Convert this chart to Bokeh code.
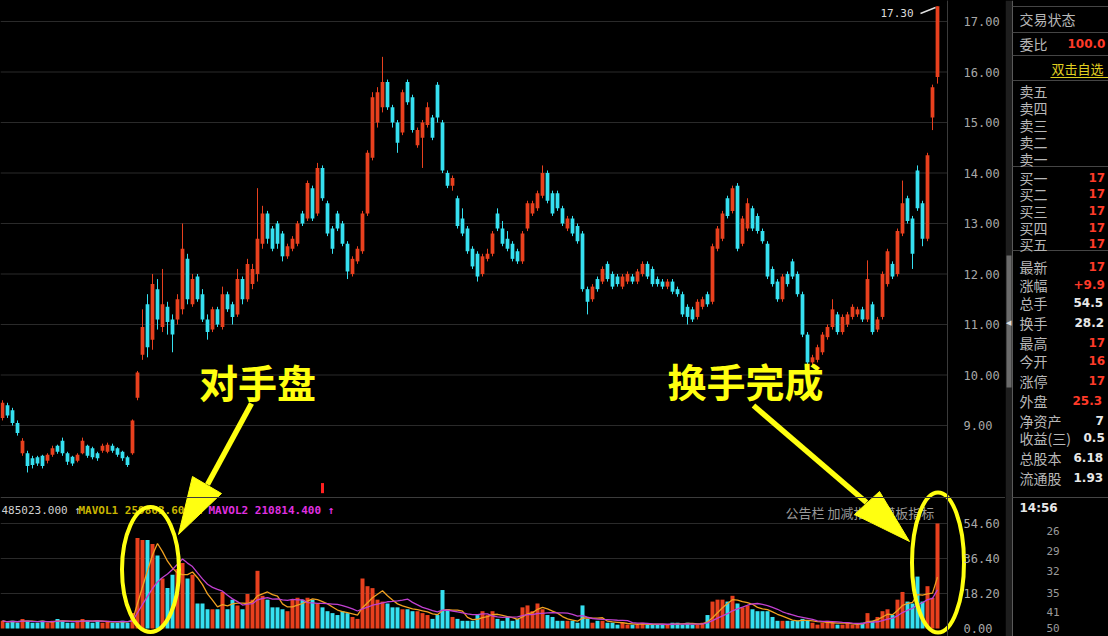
import pandas as pd
from bokeh.plotting import figure
from bokeh.layouts import row
from bokeh.models import Range1d, LinearAxis, FixedTicker, PrintfTickFormatter, Span
from bokeh.core.properties import value
from bokeh.embed import file_html
from bokeh.resources import INLINE

# ---------------- data ----------------
opens = [9.15, 9.4, 9.3, 9.05, 8.45, 8.45, 8.35, 8.37, 8.4, 8.3,
         8.42, 8.6, 8.7, 8.45, 8.38, 8.3, 8.45, 8.6, 8.55, 8.45,
         8.5, 8.48, 8.6, 8.55, 8.48, 8.37, 8.45, 9.55, 10.4, 11.4,
         10.7, 11.7, 10.95, 11.35, 11.1, 11.1, 11.3, 12.3, 11.4, 11.95,
         11.6, 11.1, 10.9, 11.3, 10.95, 11.6, 11.4, 11.2, 11.9, 11.5,
         11.8, 12.0, 12.6, 13.2, 12.9, 13.0, 12.8, 12.35, 12.5, 12.6,
         13.2, 13.1, 13.7, 13.2, 14.1, 13.4, 12.9, 13.2, 13.0, 12.6,
         12.0, 12.25, 12.45, 13.2, 14.3, 15.0, 15.3, 15.8, 15.3, 15.0,
         14.8, 15.8, 15.5, 14.55, 14.7, 14.95, 15.1, 15.75, 15.0, 14.0,
         13.75, 13.5, 13.1, 12.9, 12.5, 12.4, 12.0, 12.3, 12.4, 13.2,
         12.9, 12.7, 12.6, 12.45, 12.25, 12.9, 13.2, 13.3, 13.55, 14.0,
         13.6, 13.6, 13.3, 12.9, 13.1, 12.95, 12.8, 11.7, 11.5, 11.9,
         11.85, 12.2, 12.0, 11.95, 11.75, 11.85, 11.95, 11.85, 12.0, 12.2,
         12.1, 11.9, 11.85, 11.75, 11.85, 11.7, 11.6, 11.35, 11.3, 11.15,
         11.35, 11.6, 11.45, 12.5, 12.7, 13.5, 13.25, 13.75, 12.6, 12.9,
         13.3, 13.15, 12.85, 12.6, 12.1, 11.85, 11.5, 12.0, 12.25, 12.0,
         11.6, 10.8, 10.25, 10.3, 10.45, 10.75, 10.95, 11.2, 10.85, 11.0,
         11.15, 11.2, 11.3, 11.1, 11.4, 10.9, 11.15, 11.8, 12.2, 12.0,
         12.8, 13.5, 13.1, 14.05, 13.4, 12.7, 15.1, 15.9]
highs = [9.5, 9.45, 9.35, 9.1, 8.75, 8.5, 8.4, 8.4, 8.42, 8.45,
         8.6, 8.62, 8.76, 8.48, 8.4, 8.45, 8.76, 8.62, 8.58, 8.48,
         8.64, 8.66, 8.64, 8.57, 8.5, 8.4, 9.12, 10.08, 11.3, 11.6,
         12.0, 11.9, 12.1, 11.45, 11.2, 11.6, 13.0, 12.4, 12.0, 12.0,
         11.7, 11.2, 11.35, 11.35, 11.75, 11.65, 11.45, 12.1, 11.95, 12.3,
         12.2, 13.7, 13.35, 13.25, 12.95, 13.05, 12.85, 12.6, 12.75, 13.05,
         13.25, 13.85, 13.75, 14.2, 14.15, 13.45, 12.95, 13.25, 13.05, 12.65,
         12.35, 12.55, 13.25, 14.45, 15.6, 15.7, 16.3, 15.85, 15.35, 15.05,
         15.65, 15.85, 15.55, 14.9, 15.05, 15.4, 15.15, 15.8, 15.05, 14.05,
         13.95, 13.55, 13.3, 12.95, 12.55, 12.45, 12.4, 12.5, 12.85, 13.3,
         13.05, 12.85, 12.65, 12.5, 12.85, 13.45, 13.45, 13.65, 14.15, 14.05,
         13.65, 13.65, 13.35, 13.15, 13.15, 13.0, 12.85, 11.75, 11.8, 11.95,
         12.15, 12.25, 12.05, 12.0, 12.0, 12.05, 12.0, 12.1, 12.25, 12.25,
         12.15, 11.95, 11.9, 11.9, 11.9, 11.75, 11.65, 11.4, 11.35, 11.5,
         11.55, 11.65, 12.6, 12.95, 13.25, 13.55, 13.75, 13.8, 13.15, 13.5,
         13.35, 13.2, 12.9, 12.65, 12.15, 11.9, 12.0, 12.05, 12.3, 12.05,
         11.65, 10.85, 10.4, 10.6, 10.85, 11.0, 11.5, 11.25, 11.2, 11.25,
         11.4, 11.35, 11.35, 12.27, 11.45, 11.15, 12.05, 12.5, 12.25, 12.9,
         13.85, 13.55, 13.15, 14.15, 13.45, 14.4, 15.75, 17.3]
lows = [9.1, 9.15, 9.0, 8.8, 8.4, 8.07, 8.15, 8.2, 8.15, 8.25,
        8.38, 8.44, 8.4, 8.22, 8.2, 8.27, 8.43, 8.36, 8.33, 8.3,
        8.46, 8.45, 8.46, 8.38, 8.3, 8.18, 8.42, 9.5, 10.3, 10.35,
        10.5, 10.9, 10.85, 10.8, 10.45, 11.0, 11.2, 11.4, 11.35, 11.45,
        11.05, 10.7, 10.85, 10.95, 10.9, 11.25, 11.0, 11.15, 11.4, 11.45,
        11.7, 11.85, 12.5, 12.6, 12.45, 12.5, 12.25, 12.3, 12.45, 12.55,
        12.95, 13.05, 13.05, 13.15, 13.45, 12.75, 12.4, 12.85, 12.55, 11.9,
        11.95, 12.2, 12.4, 13.15, 14.25, 14.9, 15.2, 15.25, 14.9, 14.4,
        14.75, 15.35, 14.8, 14.5, 14.1, 14.9, 14.65, 15.0, 14.0, 13.7,
        13.65, 12.9, 12.75, 12.4, 12.1, 11.85, 11.95, 12.25, 12.35, 12.85,
        12.55, 12.45, 12.25, 12.2, 12.2, 12.85, 13.15, 13.25, 13.5, 13.4,
        13.15, 13.25, 12.95, 12.85, 12.75, 12.6, 11.65, 11.2, 11.45, 11.65,
        11.8, 11.85, 11.7, 11.75, 11.7, 11.8, 11.8, 11.8, 11.95, 11.9,
        11.75, 11.75, 11.7, 11.7, 11.6, 11.55, 11.15, 11.0, 11.05, 11.1,
        11.3, 11.35, 11.4, 12.45, 12.65, 13.1, 13.2, 12.45, 12.55, 12.85,
        12.85, 12.8, 12.6, 11.9, 11.75, 11.45, 11.45, 11.75, 11.9, 11.55,
        10.75, 10.15, 10.2, 10.25, 10.4, 10.7, 10.9, 10.8, 10.8, 10.95,
        11.1, 11.15, 11.05, 11.05, 10.8, 10.85, 11.1, 11.75, 11.9, 11.95,
        12.75, 13.0, 12.1, 13.25, 12.55, 12.65, 14.85, 15.77]
closes = [9.45, 9.2, 9.05, 8.85, 8.7, 8.2, 8.22, 8.25, 8.2, 8.42,
          8.55, 8.48, 8.45, 8.28, 8.25, 8.42, 8.7, 8.4, 8.37, 8.35,
          8.6, 8.62, 8.5, 8.42, 8.35, 8.22, 9.1, 10.05, 10.95, 10.55,
          11.8, 11.1, 11.4, 11.05, 10.8, 11.5, 12.5, 11.5, 11.9, 11.5,
          11.1, 10.85, 11.3, 11.0, 11.6, 11.3, 11.15, 11.9, 11.5, 12.2,
          12.1, 12.7, 13.2, 12.7, 12.5, 12.6, 12.35, 12.55, 12.7, 13.0,
          13.0, 13.8, 13.1, 14.1, 13.5, 12.8, 12.5, 12.9, 12.6, 12.05,
          12.3, 12.5, 13.2, 14.4, 15.5, 15.6, 15.8, 15.3, 15.0, 14.6,
          15.6, 15.4, 14.85, 14.85, 15.0, 15.3, 14.7, 15.1, 14.05, 13.75,
          13.9, 12.95, 12.8, 12.45, 12.15, 11.95, 12.35, 12.4, 12.8, 12.9,
          12.6, 12.5, 12.3, 12.25, 12.8, 13.4, 13.4, 13.6, 14.0, 13.45,
          13.2, 13.3, 13.0, 13.1, 12.8, 12.65, 11.7, 11.45, 11.75, 11.7,
          12.1, 11.9, 11.75, 11.8, 11.95, 12.0, 11.85, 12.05, 12.2, 11.95,
          11.8, 11.8, 11.75, 11.85, 11.65, 11.6, 11.2, 11.15, 11.1, 11.45,
          11.5, 11.4, 12.55, 12.9, 13.2, 13.15, 13.7, 12.5, 13.1, 13.4,
          12.9, 12.85, 12.65, 11.95, 11.8, 11.5, 11.95, 11.8, 11.95, 11.6,
          10.8, 10.25, 10.35, 10.55, 10.8, 10.95, 11.3, 10.85, 11.15, 11.2,
          11.35, 11.3, 11.1, 11.9, 10.85, 11.1, 12.0, 12.45, 11.95, 12.85,
          13.4, 13.05, 12.4, 13.3, 12.7, 14.35, 15.7, 17.3]
volumes = [4, 3, 4, 3, 5, 4, 3, 3, 4, 3,
           4, 5, 4, 3, 3, 4, 5, 4, 3, 4,
           3, 4, 3, 3, 4, 3, 8, 47, 46, 46,
           44, 38, 26, 21, 28, 31, 34, 26, 28, 13,
           13, 10, 10, 10, 19, 10, 15, 12, 10, 18,
           15, 30, 17, 15, 11, 11, 10, 9, 15, 16,
           15, 16, 15, 13, 11, 9, 8, 7, 9, 8,
           6, 5, 26, 22, 21, 15, 14, 13, 11, 11,
           10, 10, 9, 9, 8, 7, 5, 7, 20, 10,
           6, 5, 4, 4, 4, 7, 9, 7, 9, 5,
           4, 6, 4, 5, 11, 12, 9, 13, 10, 7,
           6, 4, 4, 4, 4, 3, 12, 5, 3, 4,
           4, 3, 3, 2, 3, 2, 2, 2, 3, 2,
           2, 2, 2, 2, 3, 3, 2, 3, 2, 2,
           3, 7, 14, 15, 15, 14, 17, 13, 11, 12,
           10, 9, 9, 9, 6, 4, 4, 4, 4, 4,
           5, 4, 3, 2, 3, 4, 3, 2, 2, 3,
           2, 2, 3, 8, 4, 6, 9, 10, 7, 15,
           19, 14, 13, 27, 14, 22, 16, 54.6]
price_ticks = [9, 10, 11, 12, 13, 14, 15, 16, 17]
vol_ticks = [0.0, 18.2, 36.4, 54.6]
last_price_label = "17.30"
signal_idx = [64]
signal_lo = [7.66]
signal_hi = [7.86]

vol_title_main = "485023.000 ↑"
vol_title_ma1 = "MAVOL1 259863.600 ↑"
vol_title_ma2 = "MAVOL2 210814.400 ↑"
vol_title_right = "公告栏   加减指标   模板指标"
ann_left = "对手盘"
ann_right = "换手完成"

panel_labels = ["交易状态", "委比", "卖五", "卖四", "卖三", "卖二", "卖一",
                "买一", "买二", "买三", "买四", "买五",
                "最新", "涨幅", "总手", "换手", "最高", "今开", "涨停",
                "外盘", "净资产", "收益(三)", "总股本", "流通股"]
# values as far as they are visible at the right edge of the screenshot
panel_values = ["", "100.0", "", "", "", "", "",
                "17", "17", "17", "17", "17",
                "17", "+9.9", "54.5", "28.2", "17", "16", "17",
                "25.3", "7", "0.5", "6.18", "1.93"]
panel_value_red = [False, True, False, False, False, False, False,
                   True, True, True, True, True,
                   True, True, False, False, True, True, True,
                   True, False, False, False, False]
panel_link = "双击自选"
tick_time = "14:56"
tick_rows = ["26", "29", "32", "35", "41", "50"]

# ---------------- layout constants (pixels) ----------------
W_MAIN, W_PANEL, H = 1005, 103, 636
STEP, X0PX = 5.0, 2.0            # px per candle, px of first candle
PX_PER_PRICE, P_REF, P_REF_PX = 50.5, 17.0, 21.0
PX_PER_VOL, V_ZERO_PX = 1.923, 628.0
AXIS_PX = 947.0

def xd(px):
    return (px - X0PX) / STEP

def pd_(py):
    return P_REF - (py - P_REF_PX) / PX_PER_PRICE

def vd(py):
    return (V_ZERO_PX - py) / PX_PER_VOL

RED = "#e8401e"
CYAN = "#36e0f0"
YEL = "#ffff10"
GRID = "#2a2a2a"

n = len(closes)
idx = list(range(n))
colors = [RED if c >= o else CYAN for o, c in zip(opens, closes)]
body_top = [max(o, c) for o, c in zip(opens, closes)]
body_bot = [min(o, c) for o, c in zip(opens, closes)]
vs = pd.Series(volumes, dtype=float)
ma1 = vs.rolling(5, min_periods=1).mean().tolist()
ma2 = vs.rolling(10, min_periods=1).mean().tolist()

p = figure(width=W_MAIN, height=H,
           x_range=Range1d(xd(0), xd(W_MAIN)),
           y_range=Range1d(pd_(H), pd_(0)),
           x_axis_location=None, y_axis_location=None,
           output_backend="svg", toolbar_location=None,
           min_border=0, min_border_left=0, min_border_right=0,
           min_border_top=0, min_border_bottom=0,
           background_fill_color="black", border_fill_color="black",
           outline_line_color=None)
p.extra_y_ranges = {"vol": Range1d(vd(H), vd(0))}
p.grid.visible = False

# axes on the right, fixed at the divider
ax_p = LinearAxis(ticker=FixedTicker(ticks=price_ticks),
                  formatter=PrintfTickFormatter(format="%.2f"),
                  fixed_location=xd(AXIS_PX))
ax_v = LinearAxis(y_range_name="vol", ticker=FixedTicker(ticks=vol_ticks),
                  formatter=PrintfTickFormatter(format="%.2f"),
                  fixed_location=xd(AXIS_PX))
for ax in (ax_p, ax_v):
    ax.axis_line_color = "#3a3a3a"
    ax.major_tick_line_color = None
    ax.minor_tick_line_color = None
    ax.major_tick_out = 0
    ax.major_tick_in = 0
    ax.minor_tick_out = 0
    ax.minor_tick_in = 0
    ax.major_label_standoff = 16
    ax.major_label_text_color = "#a8a8a8"
    ax.major_label_text_font = "DejaVu Sans Mono"
    ax.major_label_text_font_size = "12px"
p.add_layout(ax_p, "right")
p.add_layout(ax_v, "right")

# grid lines (stop at divider)
xs0 = xd(0)
xs1 = xd(AXIS_PX)
p.segment(x0=[xs0] * len(price_ticks), x1=[xs1] * len(price_ticks),
          y0=price_ticks, y1=price_ticks, line_color=GRID, line_width=1)
vg = vol_ticks[1:]
p.segment(x0=[xs0] * len(vg), x1=[xs1] * len(vg), y0=vg, y1=vg,
          line_color=GRID, line_width=1, y_range_name="vol")
p.add_layout(Span(location=pd_(497), dimension="width", line_color="#3c3c3c", line_width=1))

# volume panel titles
ty = vd(510)
p.text(x=[xd(1)], y=[ty], text=[vol_title_main], text_color="#d0d0d0",
       text_font=value("DejaVu Sans Mono"), text_font_size="11px",
       text_baseline="middle", y_range_name="vol")
p.text(x=[xd(78)], y=[ty], text=[vol_title_ma1], text_color="#c8b400",
       text_font=value("DejaVu Sans Mono"), text_font_size="11px", text_font_style="bold",
       text_baseline="middle", y_range_name="vol")
p.text(x=[xd(208)], y=[ty], text=[vol_title_ma2], text_color="#e030e0",
       text_font=value("DejaVu Sans Mono"), text_font_size="11px", text_font_style="bold",
       text_baseline="middle", y_range_name="vol")
p.text(x=[xd(785)], y=[vd(512)], text=[vol_title_right], text_color="#9a9a9a",
       text_font=value("Noto Sans CJK SC"), text_font_size="13px",
       text_baseline="middle", y_range_name="vol")

# volume bars + moving averages
p.vbar(x=idx, width=0.8, top=volumes, bottom=0, fill_color=colors,
       line_color=None, y_range_name="vol")
p.line(x=idx, y=ma1, line_color="#f0a020", line_width=1.3, y_range_name="vol")
p.line(x=idx, y=ma2, line_color="#c040d0", line_width=1.3, y_range_name="vol")

# candles
p.segment(x0=idx, x1=idx, y0=lows, y1=highs, line_color=colors, line_width=1)
p.vbar(x=idx, width=0.75, top=body_top, bottom=body_bot, fill_color=colors, line_color=None)
p.segment(x0=signal_idx, x1=signal_idx, y0=signal_lo, y1=signal_hi, line_color="#ff2020", line_width=3)

# last price label
p.text(x=[n - 1], y=[highs[-1]], text=[last_price_label], x_offset=-24, y_offset=7,
       text_align="right", text_baseline="middle", text_color="#dcdcdc",
       text_font=value("DejaVu Sans Mono"), text_font_size="11px")
p.segment(x0=[xd(920)], y0=[pd_(13)], x1=[xd(935)], y1=[pd_(7)], line_color="#e0e0e0", line_width=1.5)

# annotations: texts, arrows, ellipses
p.text(x=[xd(257), xd(745)], y=[pd_(380), pd_(379)], text=[ann_left, ann_right],
       text_align="center", text_baseline="middle", text_color=YEL,
       text_font=value("Noto Sans CJK SC"), text_font_style="bold", text_font_size="39px")
p.segment(x0=[xd(251), xd(753)], y0=[pd_(403), pd_(405)],
          x1=[xd(207), xd(866)], y1=[pd_(484), pd_(502)],
          line_color=YEL, line_width=5.5)
p.patches(xs=[[xd(192), xd(221), xd(178)], [xd(854), xd(879), xd(909)]],
          ys=[[pd_(476), pd_(493), pd_(534)], [pd_(514), pd_(491), pd_(541)]],
          fill_color=YEL, line_color=YEL, line_width=1)
p.ellipse(x=[xd(150), xd(937.5)], y=[vd(569), vd(562)], width=[57, 52], height=[125, 140],
          width_units="screen", height_units="screen",
          fill_color=None, line_color=YEL, line_width=4, y_range_name="vol")

# ---------------- right info panel ----------------
q = figure(width=W_PANEL, height=H, x_range=Range1d(0, W_PANEL), y_range=Range1d(H, 0),
           x_axis_location=None, y_axis_location=None,
           output_backend="svg", toolbar_location=None,
           min_border=0, min_border_left=0, min_border_right=0,
           min_border_top=0, min_border_bottom=0,
           background_fill_color="black", border_fill_color="black",
           outline_line_color=None)
q.grid.visible = False
q.quad(left=[0], right=[7], top=[0], bottom=[H], fill_color="#1e1e1e", line_color=None)
q.quad(left=[1], right=[6], top=[255], bottom=[387], fill_color="#6a6a6a", line_color=None)
q.text(x=[0.5], y=[322], text=["◀"], text_color="#e0e0e0", text_font_size="7px",
       text_baseline="middle")
q.segment(x0=[7], x1=[7], y0=[0], y1=[H], line_color="#5a5a5a", line_width=1)
sep_y = [6, 32, 55, 80, 166, 250, 497]
q.segment(x0=[7] * len(sep_y), x1=[W_PANEL] * len(sep_y), y0=sep_y, y1=sep_y,
          line_color="#454545", line_width=1)

label_y = [18, 43, 90, 107, 124, 141, 158, 177, 193, 210, 227, 243,
           266, 284, 302, 322, 342, 360, 380, 400, 420, 437, 457, 477]
value_x = [0, 62, 0, 0, 0, 0, 0, 83, 83, 83, 83, 83,
           83, 68, 68, 69, 83, 83, 83, 67, 90, 78, 68, 68]
q.text(x=[14] * len(panel_labels), y=label_y, text=panel_labels, text_color="#b8b8b8",
       text_font=value("Noto Sans CJK SC"), text_font_size="14px", text_baseline="middle")
vx = [x for x, v in zip(value_x, panel_values) if v]
vy = [y for y, v in zip(label_y, panel_values) if v]
vt = [v for v in panel_values if v]
vc = [("#ff3a28" if r else "#e8e8e8") for r, v in zip(panel_value_red, panel_values) if v]
q.text(x=vx, y=vy, text=vt, text_color=vc, text_font=value("DejaVu Sans"),
       text_font_size="12px", text_font_style="bold", text_baseline="middle")
q.text(x=[46], y=[68], text=[panel_link], text_color="#e0d020",
       text_font=value("Noto Sans CJK SC"), text_font_size="13px", text_baseline="middle")
q.segment(x0=[45], x1=[W_PANEL], y0=[77], y1=[77], line_color="#e0d020", line_width=1)
q.text(x=[14], y=[507], text=[tick_time], text_color="#e8e8e8", text_font=value("DejaVu Sans"),
       text_font_size="12px", text_font_style="bold", text_baseline="middle")
q.text(x=[41] * len(tick_rows), y=[530, 550, 570, 592, 611, 627], text=tick_rows,
       text_color="#9a9a9a", text_font=value("DejaVu Sans Mono"), text_font_size="11px",
       text_baseline="middle")

layout = row(p, q)
html = file_html(layout, INLINE)
html = html.replace("<head>", "<head><style>html,body{margin:0;padding:0;background:#000;overflow:hidden;}</style>", 1)
open("out.html", "w").write(html)
